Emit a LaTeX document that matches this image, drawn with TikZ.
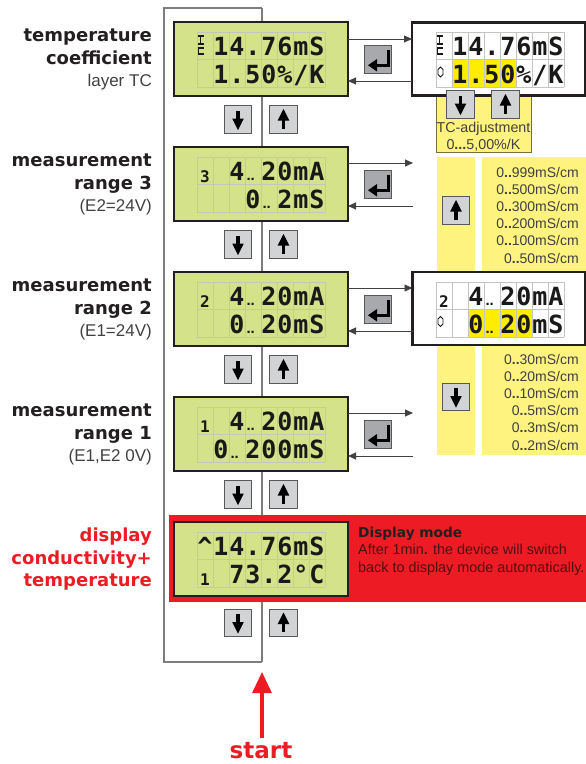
\documentclass[tikz,border=0pt]{standalone}
\usepackage{fontspec}
\setmainfont{Liberation Sans}
\newfontfamily\lcdfont{DejaVu Sans Mono}
\newfontfamily\heavyfont{DejaVu Sans}
\usetikzlibrary{arrows.meta}
\definecolor{lcdgreen}{RGB}{212,226,137}
\definecolor{lcdborder}{RGB}{35,31,32}
\definecolor{lcdink}{RGB}{25,25,25}
\definecolor{gridgray}{RGB}{195,198,190}
\definecolor{paleyellow}{RGB}{255,243,128}
\definecolor{hiyellow}{RGB}{255,237,0}
\definecolor{alarmred}{RGB}{237,28,36}
\definecolor{linegray}{RGB}{65,65,65}
\definecolor{framegray}{RGB}{125,125,125}
\definecolor{btngray}{RGB}{209,211,212}
\definecolor{btnborder}{RGB}{88,89,91}
\definecolor{entgray}{RGB}{167,169,172}
\definecolor{txtgray}{RGB}{65,64,66}
\definecolor{bodyred}{RGB}{80,15,18}
\definecolor{paneledge}{RGB}{120,110,60}
\newcommand\ee{}
\newcommand\dd{\hbox to 14pt{\hskip0.5pt\normalfont\fontsize{15}{15}\selectfont\bfseries..\hfil}}
\newcommand\sm[1]{\raisebox{-2.5pt}{\fontsize{16}{16}\selectfont\bfseries #1}}
\newcommand\lcdrow[4]{%
  \foreach \cc [count=\ii] in {#4} {\node[lcdch] (#1\ii) at ({#2+16*\ii-8},#3) {\cc};}}
\newcommand\lcdgrid[2]{%
  \foreach \kk in {0,...,8} {\draw[gridl] ({#1+16*\kk},#2) -- ++(0,55);}
  \foreach \kk in {0,1,2} {\draw[gridl] (#1,{#2+27.5*\kk}) -- ++(128,0);}}
\newcommand\dnbtn[3]{%
  \node[btn] (#1) at (#2,#3) {};
  \fill[black] (#1.center) ++(-1.7,-9) rectangle ++(3.4,9);
  \fill[black] (#1.center) ++(-5.8,-1) -- ++(11.6,0) -- ++(-5.8,11.5) -- cycle;}
\newcommand\upbtn[3]{%
  \node[btn] (#1) at (#2,#3) {};
  \fill[black] (#1.center) ++(-1.7,9) rectangle ++(3.4,-9);
  \fill[black] (#1.center) ++(-5.8,1) -- ++(11.6,0) -- ++(-5.8,-11.5) -- cycle;}
\newcommand\entbtn[3]{%
  \node[entbtnst] (#1) at (#2,#3) {};
  \fill[black] (#1.center) ++(8.5,-9.5) rectangle ++(3.5,17);
  \fill[black] (#1.center) ++(-2,4) rectangle ++(14,3.5);
  \fill[black] (#1.center) ++(-10,5.75) -- ++(9,-6.25) -- ++(0,12.5) -- cycle;}
\newcommand\tcicon[2]{%
  \draw[line width=1.4pt,lcdink] ({#1+1},{#2+4}) -- ({#1+6.5},{#2+4}) ({#1+3.75},{#2+4}) -- ({#1+3.75},{#2+12}) ({#1+1},{#2+12}) -- ({#1+6.5},{#2+12});
  \draw[line width=1.4pt,lcdink] ({#1+6.5},{#2+16}) -- ({#1+1.5},{#2+16}) -- ({#1+1.5},{#2+22}) -- ({#1+6.5},{#2+22});}
\newcommand\udicon[2]{%
  \draw[line width=0.9pt,lcdink] (#1,{#2-5}) -- ({#1+2.5},{#2-2.5}) -- ({#1+2.5},{#2+2.5}) -- (#1,{#2+5}) -- ({#1-2.5},{#2+2.5}) -- ({#1-2.5},{#2-2.5}) -- cycle;}
\begin{document}
\begin{tikzpicture}[x=1pt,y=-1pt,
  lcdbox/.style={draw=lcdborder,line width=2.2pt,fill=lcdgreen,minimum width=174pt,minimum height=74pt,inner sep=0pt,outer sep=0pt},
  whitebox/.style={draw=lcdborder,line width=2.2pt,fill=white,minimum width=173pt,minimum height=73pt,inner sep=0pt,outer sep=0pt},
  gridl/.style={draw=gridgray,line width=0.7pt},
  lcdch/.style={anchor=base,inner sep=0pt,text=lcdink,font=\lcdfont\bfseries\fontsize{25}{25}\selectfont},
  btn/.style={draw=btnborder,fill=btngray,line width=0.9pt,minimum size=27.5pt,inner sep=0pt,outer sep=0pt},
  entbtnst/.style={btn,fill=entgray},
  flow/.style={draw=linegray,line width=0.9pt,-{Triangle[length=8pt,width=7pt]}},
  bracketline/.style={draw=framegray,line width=1.2pt},
  lbl/.style={anchor=base east,inner sep=0pt,text=lcdborder,font=\heavyfont\bfseries\fontsize{18}{18}\selectfont},
  redlbl/.style={lbl,text=alarmred},
  sublbl/.style={anchor=base east,inner sep=0pt,text=txtgray,font=\fontsize{17}{17}\selectfont},
  rangetxt/.style={anchor=base east,inner sep=0pt,text=txtgray,font=\fontsize{14}{14}\selectfont},
  paneltxt/.style={anchor=base,inner sep=0pt,text=txtgray,font=\fontsize{14.3}{14.3}\selectfont},
  ycol/.style={fill=paleyellow,draw=none,inner sep=0pt,outer sep=0pt},
  bandtxt/.style={anchor=base west,inner sep=0pt,text=bodyred,font=\fontsize{14.4}{14.4}\selectfont},
  bandhead/.style={anchor=base west,inner sep=0pt,text=lcdborder,font=\heavyfont\bfseries\fontsize{13.7}{13.7}\selectfont},
  startarrow/.style={draw=alarmred,line width=3.2pt,-{Triangle[length=21pt,width=19pt]}}
]
\useasboundingbox (0,0) rectangle (586,764);
% bracket
\coordinate (ftop) at (262,8);
\coordinate (fbot) at (262,662);
\draw[bracketline] (ftop) -- (164,8) -- (164,662) -- (fbot);
\draw[bracketline] (ftop) -- (fbot);
% yellow columns
\node[ycol,minimum width=38pt,minimum height=298pt] (colL) at (456,306) {};
\node[ycol,minimum width=104pt,minimum height=298pt] (colR) at (534,306) {};
% TC adjustment panel
\node[fill=paleyellow,draw=paneledge,line width=0.6pt,minimum width=95pt,minimum height=64pt,inner sep=0pt] (tcadj) at (483.5,120) {};
% red band
\node[fill=alarmred,draw=none,minimum width=417pt,minimum height=87pt,inner sep=0pt] (band) at (377.5,558.5) {};
% main LCD boxes
\node[lcdbox] (tc) at (261,59) {};
\node[lcdbox] (rthree) at (261,184) {};
\node[lcdbox] (rtwo) at (261,309) {};
\node[lcdbox] (rone) at (261,434) {};
\node[lcdbox] (disp) at (261,559) {};
\lcdgrid{197}{32}
\lcdgrid{197}{157}
\lcdgrid{197}{282}
\lcdgrid{197}{407}
\lcdgrid{197}{532}
% right boxes
\node[whitebox] (tcR) at (498.5,59) {};
\node[whitebox] (rtwoR) at (499,308.5) {};
\fill[hiyellow] (452,59.5) rectangle (516,87);
\fill[hiyellow] (468,309.5) rectangle (532,337);
\lcdgrid{436}{32}
\lcdgrid{436}{282}
% LCD texts
\tcicon{197}{32}
\lcdrow{tcA}{197}{55}{\ee,1,4,.,7,6,m,S}
\lcdrow{tcB}{197}{83}{\ee,1,.,5,0,\%,/,K}
\lcdrow{rtA}{197}{180}{\sm{3},\ee,4,\dd,2,0,m,A}
\lcdrow{rtB}{197}{208}{\ee,\ee,\ee,0,\dd,2,m,S}
\lcdrow{rwA}{197}{305}{\sm{2},\ee,4,\dd,2,0,m,A}
\lcdrow{rwB}{197}{333}{\ee,\ee,0,\dd,2,0,m,S}
\lcdrow{roA}{197}{430}{\sm{1},\ee,4,\dd,2,0,m,A}
\lcdrow{roB}{197}{458}{\ee,0,\dd,2,0,0,m,S}
\lcdrow{dA}{197}{555}{\textasciicircum,1,4,.,7,6,m,S}
\lcdrow{dB}{197}{583}{\sm{1},\ee,7,3,.,2,°,C}
\tcicon{436}{32}
\udicon{440.5}{72}
\lcdrow{trA}{436}{55}{\ee,1,4,.,7,6,m,S}
\lcdrow{trB}{436}{83}{\ee,1,.,5,0,\%,/,K}
\udicon{440.5}{321.5}
\lcdrow{wrA}{436}{305}{\sm{2},\ee,4,\dd,2,0,m,A}
\lcdrow{wrB}{436}{333}{\ee,\ee,0,\dd,2,0,m,S}
% up/down buttons
\dnbtn{dn0}{238}{119.5}\upbtn{up0}{283.5}{119.5}
\dnbtn{dn1}{238}{244.5}\upbtn{up1}{283.5}{244.5}
\dnbtn{dn2}{238}{369.5}\upbtn{up2}{283.5}{369.5}
\dnbtn{dn3}{238}{494.5}\upbtn{up3}{283.5}{494.5}
\dnbtn{dn4}{238}{623}\upbtn{up4}{283.5}{623}
% enter buttons
\entbtn{en0}{378}{59.5}
\entbtn{en1}{378}{184.5}
\entbtn{en2}{378}{309.5}
\entbtn{en3}{378}{434.5}
% TC panel buttons and text
\dnbtn{tcdn}{460.5}{104.5}\upbtn{tcup}{505.5}{104.5}
\node[paneltxt] (tct1) at (483.5,132.5) {TC-adjustment};
\node[paneltxt] (tct2) at (483.5,149) {0\textbf{...}5,00\%/K};
% column buttons
\upbtn{colup}{456}{210.5}
\dnbtn{coldn}{456}{397}
% range lists
\foreach \rv [count=\k] in {999,500,300,200,100,50}
  {\node[rangetxt] (ra\k) at (579,{160.4+17.1*\k}) {0\textbf{..}\rv mS/cm};}
\foreach \rv [count=\k] in {30,20,10,5,3,2}
  {\node[rangetxt] (rb\k) at (579,{346.8+17.2*\k}) {0\textbf{..}\rv mS/cm};}
% connectors
\coordinate (o0) at (380,39);   \coordinate (b0) at (380,81);
\coordinate (o1) at (413,163);  \coordinate (b1) at (413,206);
\coordinate (o2) at (380,288);  \coordinate (b2) at (380,331);
\coordinate (o3) at (413,413);  \coordinate (b3) at (413,456);
\draw[flow] (tc.east |- o0) -- (tcR.west |- o0);
\draw[flow] (tcR.west |- b0) -- (tc.east |- b0);
\draw[flow] (rthree.east |- o1) -- (o1);
\draw[flow] (b1) -- (rthree.east |- b1);
\draw[flow] (rtwo.east |- o2) -- (rtwoR.west |- o2);
\draw[flow] (rtwoR.west |- b2) -- (rtwo.east |- b2);
\draw[flow] (rone.east |- o3) -- (o3);
\draw[flow] (b3) -- (rone.east |- b3);
% band text
\node[bandhead] (dmh) at (358,537) {Display mode};
\node[bandtxt] (dm1) at (358,554.5) {After 1min\textbf{.} the device will switch};
\node[bandtxt] (dm2) at (358,572) {back to display mode automatically.};
% left labels
\node[lbl] (l0a) at (152,41) {temperature};
\node[lbl] (l0b) at (152,64) {coefficient};
\node[sublbl] (l0c) at (152,86) {layer TC};
\node[lbl] (l1a) at (152,166) {measurement};
\node[lbl] (l1b) at (152,189) {range 3};
\node[sublbl] (l1c) at (152,211) {(E2=24V)};
\node[lbl] (l2a) at (152,291) {measurement};
\node[lbl] (l2b) at (152,314) {range 2};
\node[sublbl] (l2c) at (152,336) {(E1=24V)};
\node[lbl] (l3a) at (152,416) {measurement};
\node[lbl] (l3b) at (152,439) {range 1};
\node[sublbl] (l3c) at (152,461) {(E1,E2 0V)};
\node[redlbl] (l4a) at (152,541) {display};
\node[redlbl] (l4b) at (152,564) {conductivity+};
\node[redlbl] (l4c) at (152,586) {temperature};
% start
\node[anchor=base,inner sep=0pt,text=alarmred,font=\heavyfont\bfseries\fontsize{23}{23}\selectfont] (start) at (261,758) {start};
\coordinate (stail) at (262,738);
\coordinate (stip) at (262,672);
\draw[startarrow] (stail) -- (stip);
\end{tikzpicture}
\end{document}
